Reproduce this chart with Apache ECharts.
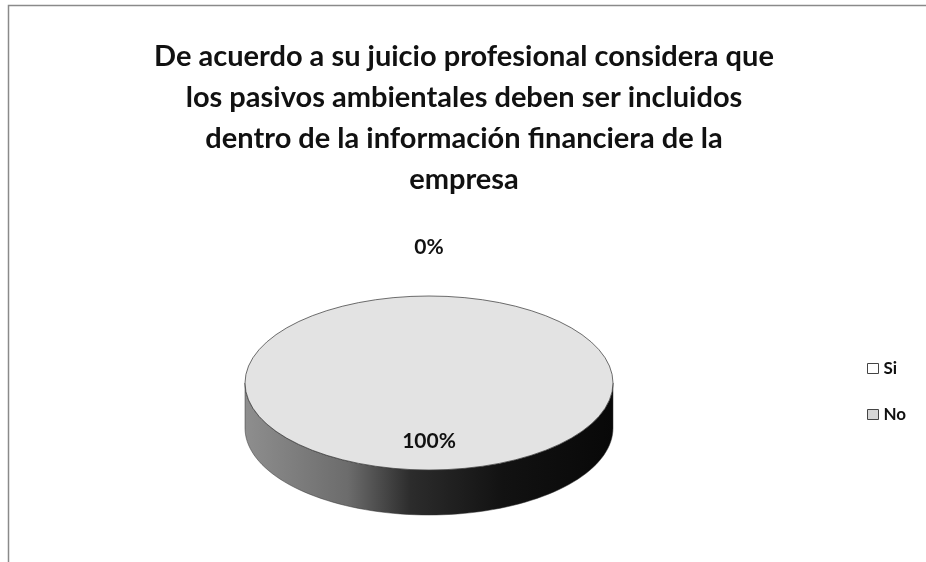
<!DOCTYPE html>
<html>
<head>
<meta charset="utf-8">
<script src="https://cdn.jsdelivr.net/npm/echarts@6/dist/echarts.min.js"></script>
<style>
  html, body { margin: 0; padding: 0; background: #fff; }
  #chart { width: 926px; height: 562px; }
</style>
</head>
<body>
<div id="chart"></div>
<script>
// datos del grafico
const categories = ['Si', 'No']
const values = [0, 100]
const sliceColors = ['#ffffff', '#e3e3e3']
const titleLines = [
  'De acuerdo a su juicio profesional considera que',
  'los pasivos ambientales deben ser incluidos',
  'dentro de la información financiera de la',
  'empresa'
]

const FONT = 'Lato'
// geometria del pastel 3D
const cx = 429
const cy = 383
const rx = 184
const ry = 87
const depth = 45

const total = values.reduce((a, b) => a + b, 0)

// angulos de cada porcion, empezando arriba y en sentido horario
const sliceAngle = (i) => {
  let before = 0
  for (let k = 0; k < i; k++) before += values[k]
  const a0 = -Math.PI / 2 + (before / total) * Math.PI * 2
  const a1 = a0 + (values[i] / total) * Math.PI * 2
  return [a0, a1]
}

// lateral del cilindro (solo la parte frontal)
const renderSide = (params, api) => {
  const [a0, a1] = sliceAngle(params.dataIndex)
  const s = Math.max(a0, 0)
  const e = Math.min(a1, Math.PI)
  if (e <= s) return null
  const top = []
  const bottom = []
  const steps = 80
  for (let j = 0; j <= steps; j++) {
    const t = s + (e - s) * j / steps
    const x = cx + rx * Math.cos(t)
    const y = cy + ry * Math.sin(t)
    top.push([x, y])
    bottom.unshift([x, y + depth])
  }
  return {
    type: 'polygon',
    shape: { points: top.concat(bottom) },
    style: {
      fill: new echarts.graphic.LinearGradient(0, 0, 1, 0, [
        { offset: 0, color: '#8e8e8e' },
        { offset: 0.28, color: '#6c6c6c' },
        { offset: 0.45, color: '#2c2c2c' },
        { offset: 0.7, color: '#121212' },
        { offset: 1, color: '#080808' }
      ]),
      stroke: '#333',
      lineWidth: 0.5
    }
  }
}

// cara superior y etiqueta
const renderTop = (params, api) => {
  const i = params.dataIndex
  const [a0, a1] = sliceAngle(i)
  const pct = Math.round(values[i] / total * 100) + '%'
  const mid = (a0 + a1) / 2
  const outside = values[i] / total < 0.05
  const lr = outside ? 1 : 0.67
  const gap = outside ? 49 : 0
  const children = []
  if (a1 > a0) {
    children.push({
      type: 'sector',
      x: cx,
      y: cy,
      scaleY: ry / rx,
      shape: { cx: 0, cy: 0, r0: 0, r: rx, startAngle: a0, endAngle: a1, clockwise: true },
      style: { fill: sliceColors[i], stroke: '#3a3a3a', lineWidth: 1, strokeNoScale: true }
    })
  }
  children.push({
    type: 'text',
    z2: 10,
    style: {
      x: cx + (rx * lr + gap) * Math.cos(mid),
      y: cy + (ry * lr + gap) * Math.sin(mid),
      text: pct,
      fill: '#111',
      font: 'bold 21px ' + FONT,
      align: 'center',
      verticalAlign: 'middle'
    }
  })
  return { type: 'group', children }
}

const sliceData = categories.map((c, i) => ({ name: c, value: values[i] }))

const chart = echarts.init(document.getElementById('chart'), null, { renderer: 'canvas' })
chart.setOption({
  animation: false,
  backgroundColor: '#fff',
  title: {
    text: titleLines.join('\n'),
    left: 459,
    top: 31,
    textAlign: 'center',
    textStyle: {
      fontFamily: FONT,
      fontSize: 29,
      fontWeight: 'bold',
      color: '#111',
      lineHeight: 41
    }
  },
  legend: {
    orient: 'vertical',
    left: 862,
    top: 355,
    itemWidth: 11,
    itemHeight: 10,
    itemGap: 29,
    selectedMode: false,
    textStyle: { fontFamily: FONT, fontSize: 17, fontWeight: 'bold', color: '#111' },
    data: [
      { name: categories[0], icon: 'rect', itemStyle: { color: sliceColors[0], borderColor: '#444', borderWidth: 1 } },
      { name: categories[1], icon: 'rect', itemStyle: { color: '#d6d6d6', borderColor: '#444', borderWidth: 1 } }
    ]
  },
  graphic: [{
    type: 'rect',
    shape: { x: 8.5, y: 5.5, width: 940, height: 600 },
    style: { fill: 'none', stroke: '#8a8a8a', lineWidth: 1.5 },
    silent: true
  }],
  series: [
    {
      // solo para la leyenda
      type: 'pie',
      radius: [0, 0],
      silent: true,
      label: { show: false },
      labelLine: { show: false },
      data: sliceData
    },
    {
      type: 'custom',
      coordinateSystem: 'none',
      z: 2,
      silent: true,
      renderItem: renderSide,
      data: sliceData
    },
    {
      type: 'custom',
      coordinateSystem: 'none',
      z: 3,
      silent: true,
      renderItem: renderTop,
      data: sliceData
    }
  ]
})
</script>
</body>
</html>
